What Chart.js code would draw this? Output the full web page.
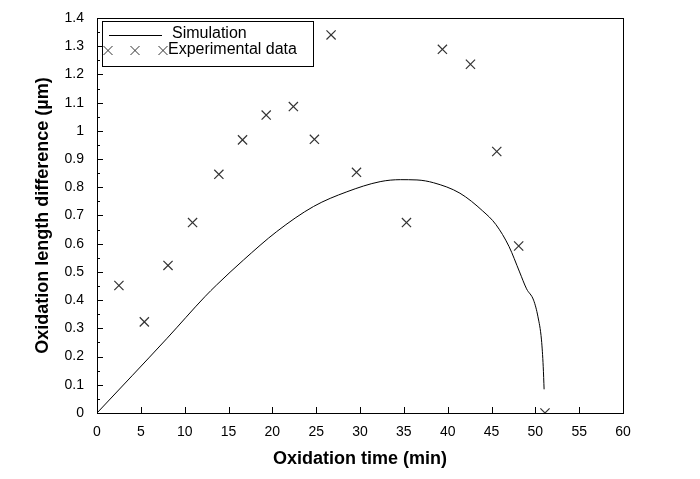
<!DOCTYPE html>
<html>
<head>
<meta charset="utf-8">
<script src="https://cdn.jsdelivr.net/npm/chart.js@4.4.0/dist/chart.umd.min.js"></script>
<style>
body { margin: 0; background: #fff; }
#wrap { width: 700px; height: 479px; }
</style>
</head>
<body>
<div id="wrap"><canvas id="canvas"></canvas></div>
<script>
// simulation curve (min, um)
var simTime = [0, 4, 8, 12.3, 13.65, 16.7, 20.5, 24.7, 28.5, 32.3, 34.6, 36.5, 38.4, 41.4, 44.0, 45.5, 47.0, 48.2, 49.0, 49.8, 50.3, 50.7, 50.9, 51.0];
var simDiff = [0, 0.132, 0.265, 0.412, 0.454, 0.542, 0.643, 0.732, 0.784, 0.820, 0.827, 0.826, 0.816, 0.779, 0.716, 0.668, 0.590, 0.500, 0.440, 0.40, 0.341, 0.259, 0.164, 0.084];

// experimental points
var expTime = [2.5, 5.4, 8.1, 10.9, 13.9, 16.6, 19.3, 22.4, 24.8, 26.7, 29.6, 35.3, 39.4, 42.6, 45.6, 48.1, 51.1];
var expDiff = [0.452, 0.323, 0.523, 0.675, 0.846, 0.968, 1.056, 1.086, 0.970, 1.34, 0.853, 0.675, 1.289, 1.236, 0.927, 0.592, 0];

var xTicks = [0, 5, 10, 15, 20, 25, 30, 35, 40, 45, 50, 55, 60];
var yTicks = [0, 0.1, 0.2, 0.3, 0.4, 0.5, 0.6, 0.7, 0.8, 0.9, 1.0, 1.1, 1.2, 1.3, 1.4];

var fontFamily = '"Liberation Sans", Arial, sans-serif';

function pts(xs, ys) {
    var out = [];
    for (var i = 0; i < xs.length; i++) out.push({ x: xs[i], y: ys[i] });
    return out;
}

function drawCross(ctx, cx, cy, r) {
    ctx.beginPath();
    ctx.moveTo(cx - r, cy - r);
    ctx.lineTo(cx + r, cy + r);
    ctx.moveTo(cx + r, cy - r);
    ctx.lineTo(cx - r, cy + r);
    ctx.stroke();
}

function noPad(s) {
    s.paddingTop = 0;
    s.paddingBottom = 0;
    s.paddingLeft = 0;
    s.paddingRight = 0;
}

// box, inward ticks and the legend inside the plot
var framePlugin = {
    id: 'frame',
    afterDraw: function (chart) {
        var ctx = chart.ctx;
        var a = chart.chartArea;
        var xs = chart.scales.x, ys = chart.scales.y;
        ctx.save();
        ctx.strokeStyle = '#000';
        ctx.lineWidth = 1;
        ctx.strokeRect(Math.round(a.left) + 0.5, Math.round(a.top) + 0.5, Math.round(a.right - a.left), Math.round(a.bottom - a.top));
        ctx.beginPath();
        xTicks.forEach(function (v) {
            var px = Math.round(xs.getPixelForValue(v)) + 0.5;
            ctx.moveTo(px, a.bottom);
            ctx.lineTo(px, a.bottom - 6);
        });
        for (var v = 0; v <= 1.4001; v += 0.05) {
            var py = Math.round(ys.getPixelForValue(v)) + 0.5;
            var major = Math.abs(v * 10 - Math.round(v * 10)) < 0.01;
            ctx.moveTo(a.left, py);
            ctx.lineTo(a.left + (major ? 6 : 3), py);
        }
        ctx.stroke();

        // legend
        var lx = Math.round(a.left) + 5, ly = Math.round(a.top) + 3;
        ctx.fillStyle = '#fff';
        ctx.fillRect(lx, ly, 211, 45);
        ctx.strokeRect(lx + 0.5, ly + 0.5, 211, 45);
        ctx.beginPath();
        ctx.moveTo(lx + 7, ly + 14.5);
        ctx.lineTo(lx + 60, ly + 14.5);
        ctx.stroke();
        ctx.strokeStyle = '#333';
        [lx + 6, lx + 33, lx + 61].forEach(function (cx) {
            drawCross(ctx, cx, ly + 29.5, 4.5);
        });
        ctx.fillStyle = '#000';
        ctx.font = '16px ' + fontFamily;
        ctx.textBaseline = 'middle';
        ctx.fillText('Simulation', lx + 70, ly + 13);
        ctx.fillText('Experimental data', lx + 66, ly + 29);
        ctx.restore();
    }
};

window.onload = function () {
    var ctx = document.getElementById('canvas').getContext('2d');
    window.myChart = new Chart(ctx, {
        type: 'scatter',
        data: {
            datasets: [{
                label: 'Simulation',
                data: pts(simTime, simDiff),
                showLine: true,
                borderColor: '#000',
                borderWidth: 1,
                pointRadius: 0,
                cubicInterpolationMode: 'monotone'
            }, {
                label: 'Experimental data',
                data: pts(expTime, expDiff),
                showLine: false,
                pointStyle: 'crossRot',
                pointRadius: 6.5,
                borderColor: '#333',
                borderWidth: 1.2
            }]
        },
        options: {
            responsive: true,
            maintainAspectRatio: false,
            animation: false,
            layout: { padding: { top: 18, right: 77, left: 32, bottom: 0 } },
            plugins: { legend: { display: false }, tooltip: { enabled: false } },
            scales: {
                x: {
                    type: 'linear', min: 0, max: 60,
                    afterBuildTicks: function (s) { s.ticks = xTicks.map(function (v) { return { value: v }; }); },
                    afterFit: function (s) { s.height = 66; noPad(s); },
                    grid: { display: false, drawTicks: false },
                    border: { display: false },
                    ticks: { color: '#000', padding: 11, maxRotation: 0, font: { family: fontFamily, size: 14 } },
                    title: { display: true, text: 'Oxidation time (min)', color: '#000', padding: { top: 0, bottom: 9 }, font: { family: fontFamily, size: 18, weight: 'bold' } }
                },
                y: {
                    type: 'linear', min: 0, max: 1.4,
                    afterBuildTicks: function (s) { s.ticks = yTicks.map(function (v) { return { value: v }; }); },
                    afterFit: function (s) { s.width = 65; noPad(s); },
                    grid: { display: false, drawTicks: false },
                    border: { display: false },
                    ticks: {
                        color: '#000', padding: 13,
                        font: { family: fontFamily, size: 14 },
                        callback: function (v) { return String(parseFloat(v.toFixed(1))); }
                    },
                    title: { display: true, text: 'Oxidation length difference (µm)', color: '#000', padding: { top: 0, bottom: 0 }, font: { family: fontFamily, size: 18, weight: 'bold' } }
                }
            }
        },
        plugins: [framePlugin]
    });
};
</script>
</body>
</html>
